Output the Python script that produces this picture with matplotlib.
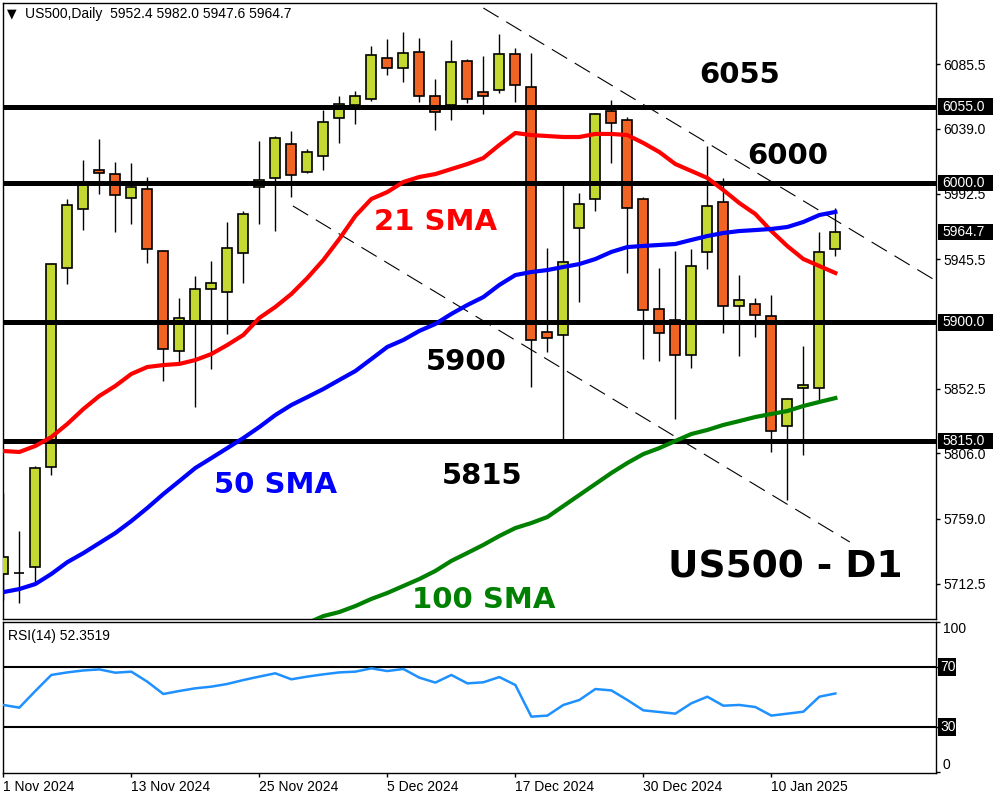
import numpy as np
import matplotlib.pyplot as plt
import matplotlib.transforms as mtransforms
from matplotlib.patches import Rectangle

plt.rcParams["font.family"] = ["Liberation Sans", "DejaVu Sans"]


# Data (US500 daily, 1 Nov 2024 - 16 Jan 2025)

opens = [5719.4, 5719.8, 5724.4, 5796.2, 5939.1, 5981.4, 6009.4, 6006.5, 5989.3, 5995.8,
         5951.3, 5879.5, 5900.3, 5924.0, 5921.9, 5949.8, 5997.2, 6003.7, 6028.1, 6008.0,
         6019.5, 6046.7, 6056.1, 6060.4, 6089.8, 6082.6, 6094.1, 6062.5, 6056.1, 6087.7,
         6065.4, 6066.8, 6092.7, 6069.0, 5893.1, 5891.0, 5967.8, 5988.6, 6051.8, 6045.3,
         5988.6, 5909.6, 5901.7, 5876.6, 5950.6, 5986.4, 5911.8, 5913.2, 5904.6, 5825.6,
         5853.0, 5853.0, 5952.4]
highs = [5777.5, 5750.3, 5796.9, 5942.6, 5988.6, 6016.6, 6031.7, 6015.2, 6014.4, 6004.4,
         5952.0, 5917.5, 5933.3, 5944.1, 5972.1, 5980.0, 6030.2, 6033.8, 6037.4, 6024.5,
         6052.5, 6062.5, 6066.1, 6098.4, 6103.5, 6108.5, 6104.2, 6074.7, 6102.7, 6089.1,
         6091.3, 6107.0, 6097.0, 6093.4, 5953.4, 5999.4, 5992.9, 6050.3, 6059.7, 6047.5,
         5990.0, 5939.1, 5951.3, 5952.7, 6026.6, 6003.7, 5934.0, 5917.5, 5919.7, 5845.7,
         5883.1, 5964.9, 5982.0]
lows = [5700.7, 5698.6, 5712.9, 5790.5, 5927.6, 5966.3, 5992.2, 5964.9, 5970.6, 5942.6,
        5858.0, 5870.9, 5839.3, 5866.6, 5891.7, 5928.3, 5970.6, 5965.6, 5990.0, 6007.3,
        6009.4, 6028.8, 6042.4, 6059.0, 6077.6, 6072.6, 6058.2, 6038.1, 6045.3, 6057.5,
        6049.6, 6064.7, 6058.2, 5853.6, 5878.8, 5816.3, 5914.7, 5980.0, 6014.4, 5935.5,
        5873.7, 5872.3, 5830.7, 5867.3, 5938.3, 5892.4, 5875.9, 5889.5, 5807.0, 5772.5,
        5804.8, 5843.6, 5947.6]
closes = [5731.6, 5720.3, 5795.5, 5941.9, 5984.3, 6000.8, 6007.3, 5991.5, 5997.2, 5952.7,
          5880.9, 5903.2, 5924.0, 5928.3, 5953.4, 5977.8, 6002.2, 6032.4, 6005.8, 6022.3,
          6043.9, 6056.8, 6062.5, 6092.0, 6082.6, 6093.4, 6062.5, 6051.1, 6087.0, 6060.4,
          6062.5, 6092.7, 6070.4, 5887.4, 5888.8, 5943.4, 5985.0, 6049.6, 6043.2, 5982.1,
          5908.9, 5892.4, 5876.6, 5940.5, 5983.6, 5911.8, 5916.1, 5905.3, 5822.0, 5845.0,
          5855.1, 5950.6, 5964.7]

sma21 = [5807.7, 5807.0, 5811.3, 5817.7, 5827.1, 5837.8, 5847.2, 5854.4, 5863.0, 5868.0,
         5869.4, 5870.2, 5873.0, 5877.3, 5883.8, 5891.0, 5903.2, 5911.1, 5920.4, 5931.9,
         5944.8, 5959.9, 5976.4, 5988.6, 5993.6, 6000.8, 6004.4, 6006.5, 6010.1, 6013.7,
         6018.0, 6027.4, 6036.0, 6034.5, 6033.8, 6033.1, 6033.1, 6035.3, 6035.3, 6034.5,
         6028.8, 6022.3, 6013.7, 6008.7, 6003.7, 5995.0, 5985.7, 5977.8, 5965.6, 5954.8,
         5945.5, 5940.5, 5935.5]
sma50 = [5706.4, 5708.6, 5712.2, 5719.4, 5727.9, 5734.4, 5741.6, 5748.8, 5757.4, 5766.8,
         5776.8, 5786.1, 5795.5, 5802.6, 5809.8, 5817.0, 5824.9, 5833.5, 5840.7, 5846.4,
         5852.2, 5858.7, 5865.1, 5873.7, 5882.4, 5887.4, 5893.9, 5898.9, 5906.1, 5912.5,
         5918.2, 5926.9, 5934.0, 5936.2, 5937.6, 5939.8, 5941.9, 5945.5, 5950.6, 5954.1,
         5954.9, 5955.6, 5956.3, 5959.2, 5962.0, 5964.2, 5965.6, 5966.3, 5967.1, 5968.5,
         5972.1, 5977.1, 5979.3]
# 100 SMA is below the visible range until mid Nov
sma100 = [np.nan] * 19 + [
    5684.1, 5689.2, 5692.1, 5696.4, 5701.5, 5705.8, 5710.8, 5715.8, 5721.6, 5728.8,
    5734.5, 5740.3, 5746.7, 5752.4, 5756.0, 5760.3, 5768.2, 5776.1, 5784.0, 5791.9,
    5799.1, 5805.5, 5809.8, 5814.9, 5819.9, 5822.8, 5826.4, 5829.2, 5832.1, 5834.3,
    5836.4, 5840.0, 5842.9, 5845.7]

rsi = [44.7, 42.9, 54.0, 64.7, 66.4, 67.7, 68.4, 66.2, 66.9, 60.2,
       52.0, 54.0, 55.8, 56.9, 58.7, 61.3, 63.6, 65.8, 61.8, 63.6,
       65.1, 66.4, 66.9, 69.1, 67.3, 68.7, 62.9, 59.6, 64.7, 59.1,
       59.8, 63.3, 58.0, 36.9, 37.6, 44.7, 48.0, 55.3, 54.4, 48.0,
       41.1, 40.0, 38.9, 45.8, 50.2, 44.2, 44.7, 43.3, 37.6, 38.9,
       40.2, 50.2, 52.35]
rsi_last = 52.3519

levels = [6055.0, 6000.0, 5900.0, 5815.0]
price_ticks = [6085.5, 6039.0, 5992.5, 5945.5, 5852.5, 5806.0, 5759.0, 5712.5]

tick_bars = [0, 8, 16, 24, 32, 40, 48]
tick_labels = ["1 Nov 2024", "13 Nov 2024", "25 Nov 2024", "5 Dec 2024",
               "17 Dec 2024", "30 Dec 2024", "10 Jan 2025"]

# dashed channel, (bar index, price) at each end
upper_bars = [30.0, 58.1]
upper_prices = [6125.7, 5931.2]
lower_bars = [18.1, 52.9]
lower_prices = [5983.6, 5742.4]


# Figure

BULL = "#c4d832"
BEAR = "#f26424"

x = np.arange(len(opens))
o = np.array(opens)
c = np.array(closes)
colors = [BULL if cc >= oo else BEAR for oo, cc in zip(opens, closes)]

fig = plt.figure(figsize=(10, 8), dpi=100)
ax = fig.add_axes([0.003, 0.22625, 0.933, 0.77])
ax2 = fig.add_axes([0.003, 0.03375, 0.933, 0.18875])

# candles
ax.vlines(x, lows, highs, color="black", lw=1, zorder=2)
ax.bar(x, np.maximum(np.abs(c - o), 0.3), bottom=np.minimum(o, c), width=0.62,
       color=colors, edgecolor="black", linewidth=1.2, zorder=3)

# support / resistance
for lvl in levels:
    ax.axhline(lvl, color="black", lw=3.6, zorder=4)

ax.plot(upper_bars, upper_prices, color="black", lw=0.8, ls=(0, (16, 8)), zorder=4)
ax.plot(lower_bars, lower_prices, color="black", lw=0.8, ls=(0, (16, 8)), zorder=4)

# moving averages
ax.plot(x, sma21, color="#ff0000", lw=3, zorder=5)
ax.plot(x, sma50, color="#0000ff", lw=3, zorder=5)
ax.plot(x, sma100, color="#008000", lw=3, zorder=5)

# annotations
big = dict(family="DejaVu Sans", fontweight="bold", ha="center", va="baseline", zorder=6)
ax.text(46.0, 6071.9, "6055", fontsize=21, color="black", **big)
ax.text(49.0, 6013.7, "6000", fontsize=21, color="black", **big)
ax.text(27.0, 5966.3, "21 SMA", fontsize=21, color="#ff0000", **big)
ax.text(28.95, 5865.8, "5900", fontsize=21, color="black", **big)
ax.text(29.95, 5784.0, "5815", fontsize=21, color="black", **big)
ax.text(17.0, 5777.5, "50 SMA", fontsize=21, color="#0000ff", **big)
ax.text(30.0, 5695.0, "100 SMA", fontsize=21, color="#008000", **big)
ax.text(48.9, 5717.2, "US500 - D1", fontsize=27, color="black", **big)

ax.text(0.0043, 0.982, "\u25bc", transform=ax.transAxes, fontsize=9,
        family="DejaVu Sans", va="center", ha="left")
ax.text(0.0236, 0.982,
        f"US500,Daily  {opens[-1]:.1f} {highs[-1]:.1f} {lows[-1]:.1f} {closes[-1]:.1f}",
        transform=ax.transAxes, fontsize=10, va="center", ha="left")

ax.set_xlim(-0.02, 58.29)
ax.set_ylim(5687.1, 6129.3)
ax.set_xticks([])
ax.yaxis.tick_right()
ax.set_yticks(price_ticks)
ax.set_yticklabels([f"{t:.1f}" for t in price_ticks])
ax.tick_params(axis="y", direction="out", length=3, width=1, labelsize=10, pad=2)

# price boxes on the right
trans = mtransforms.blended_transform_factory(ax.transAxes, ax.transData)
for lvl in levels + [closes[-1]]:
    ax.add_patch(Rectangle((1.0021, lvl - 5.8), 0.059, 11.6, transform=trans,
                           facecolor="black", edgecolor="none", clip_on=False, zorder=9))
    ax.text(1.0069, lvl, f"{lvl:.1f}", transform=trans, color="white", fontsize=10,
            ha="left", va="center", clip_on=False, zorder=10)

# RSI panel
ax2.plot(x, rsi, color="#1e90ff", lw=1.8, zorder=3)
ax2.axhline(70, color="black", lw=1.5, zorder=2)
ax2.axhline(30, color="black", lw=1.5, zorder=2)
ax2.text(0.005, 0.91, f"RSI(14) {rsi_last}", transform=ax2.transAxes, fontsize=10,
         va="center", ha="left")

ax2.set_xlim(-0.02, 58.29)
ax2.set_ylim(-0.67, 100)
ax2.yaxis.tick_right()
ax2.set_yticks([0, 30, 70, 100])
ax2.set_yticklabels(["0", "", "", "100"])
ax2.tick_params(axis="y", direction="out", length=3, width=1, labelsize=10, pad=2)
ylab = ax2.get_yticklabels()
ylab[0].set_va("bottom")
ylab[3].set_va("top")

trans2 = mtransforms.blended_transform_factory(ax2.transAxes, ax2.transData)
for lvl in [70, 30]:
    ax2.add_patch(Rectangle((1.0021, lvl - 5.7), 0.0193, 11.4, transform=trans2,
                            facecolor="black", edgecolor="none", clip_on=False, zorder=9))
    ax2.text(1.0043, lvl, f"{lvl}", transform=trans2, color="white", fontsize=10,
             ha="left", va="center", clip_on=False, zorder=10)

ax2.set_xticks(tick_bars)
ax2.set_xticklabels(tick_labels, ha="left")
ax2.tick_params(axis="x", direction="out", length=3, width=1, labelsize=10, pad=2)

for a in (ax, ax2):
    for s in a.spines.values():
        s.set_linewidth(1)
        s.set_color("black")

fig.savefig("out.png", dpi=100)
